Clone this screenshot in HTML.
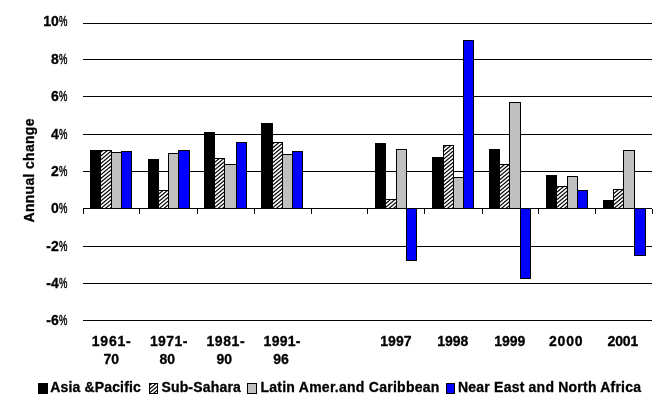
<!DOCTYPE html>
<html lang="en"><head><meta charset="utf-8"><title>Annual change chart</title>
<style>html,body{margin:0;padding:0;background:#fff}body{width:662px;height:407px;overflow:hidden}svg{display:block}text{font-family:"Liberation Sans",sans-serif;font-weight:bold;font-size:14px;fill:#000;stroke:#000;stroke-width:0.3px}</style>
</head><body>
<svg width="662" height="407" viewBox="0 0 662 407">
<defs><pattern id="hatch" width="9" height="15" patternUnits="userSpaceOnUse"><rect width="9" height="15" fill="#fff"/><path d="M-1 0.833L10 -8.333M-1 4.583L10 -4.583M-1 8.333L10 -0.833M-1 12.083L10 2.917M-1 15.833L10 6.667M-1 19.583L10 10.417M-1 23.333L10 14.167M-1 27.083L10 17.917" stroke="#000" stroke-width="1.25" fill="none"/></pattern></defs>
<rect width="662" height="407" fill="#fff"/>
<g shape-rendering="crispEdges" stroke="#000" stroke-width="1" fill="none">
<line x1="83" y1="23.5" x2="652" y2="23.5"/>
<line x1="83" y1="59.5" x2="652" y2="59.5"/>
<line x1="83" y1="96.5" x2="652" y2="96.5"/>
<line x1="83" y1="134.5" x2="652" y2="134.5"/>
<line x1="83" y1="171.5" x2="652" y2="171.5"/>
<line x1="83" y1="208.5" x2="652" y2="208.5"/>
<line x1="83" y1="246.5" x2="652" y2="246.5"/>
<line x1="83" y1="283.5" x2="652" y2="283.5"/>
<line x1="83" y1="320.5" x2="652" y2="320.5"/>
<line x1="83.5" y1="208" x2="83.5" y2="214"/>
<line x1="139.5" y1="208" x2="139.5" y2="214"/>
<line x1="197.5" y1="208" x2="197.5" y2="214"/>
<line x1="254.5" y1="208" x2="254.5" y2="214"/>
<line x1="311.5" y1="208" x2="311.5" y2="214"/>
<line x1="367.5" y1="208" x2="367.5" y2="214"/>
<line x1="424.5" y1="208" x2="424.5" y2="214"/>
<line x1="482.5" y1="208" x2="482.5" y2="214"/>
<line x1="538.5" y1="208" x2="538.5" y2="214"/>
<line x1="595.5" y1="208" x2="595.5" y2="214"/>
<line x1="652.5" y1="209" x2="652.5" y2="214"/>
</g>
<g shape-rendering="crispEdges" stroke="#000" stroke-width="1">
<rect x="90.5" y="150.5" width="10" height="58" fill="#000"/>
<rect x="100.5" y="150.5" width="11" height="58" fill="url(#hatch)"/>
<rect x="111.5" y="152.5" width="10" height="56" fill="#c0c0c0"/>
<rect x="121.5" y="151.5" width="10" height="57" fill="#0000ff"/>
<rect x="148.5" y="159.5" width="10" height="49" fill="#000"/>
<rect x="158.5" y="190.5" width="10" height="18" fill="url(#hatch)"/>
<rect x="168.5" y="153.5" width="10" height="55" fill="#c0c0c0"/>
<rect x="178.5" y="150.5" width="11" height="58" fill="#0000ff"/>
<rect x="204.5" y="132.5" width="10" height="76" fill="#000"/>
<rect x="214.5" y="158.5" width="10" height="50" fill="url(#hatch)"/>
<rect x="224.5" y="164.5" width="12" height="44" fill="#c0c0c0"/>
<rect x="236.5" y="142.5" width="10" height="66" fill="#0000ff"/>
<rect x="261.5" y="123.5" width="11" height="85" fill="#000"/>
<rect x="272.5" y="142.5" width="10" height="66" fill="url(#hatch)"/>
<rect x="282.5" y="154.5" width="10" height="54" fill="#c0c0c0"/>
<rect x="292.5" y="151.5" width="10" height="57" fill="#0000ff"/>
<rect x="375.5" y="143.5" width="10" height="65" fill="#000"/>
<rect x="385.5" y="199.5" width="11" height="9" fill="url(#hatch)"/>
<rect x="396.5" y="149.5" width="10" height="59" fill="#c0c0c0"/>
<rect x="406.5" y="208.5" width="10" height="52" fill="#0000ff"/>
<rect x="432.5" y="157.5" width="11" height="51" fill="#000"/>
<rect x="443.5" y="145.5" width="10" height="63" fill="url(#hatch)"/>
<rect x="453.5" y="177.5" width="10" height="31" fill="#c0c0c0"/>
<rect x="463.5" y="40.5" width="10" height="168" fill="#0000ff"/>
<rect x="489.5" y="149.5" width="10" height="59" fill="#000"/>
<rect x="499.5" y="164.5" width="10" height="44" fill="url(#hatch)"/>
<rect x="509.5" y="102.5" width="11" height="106" fill="#c0c0c0"/>
<rect x="520.5" y="208.5" width="10" height="70" fill="#0000ff"/>
<rect x="546.5" y="175.5" width="10" height="33" fill="#000"/>
<rect x="556.5" y="186.5" width="11" height="22" fill="url(#hatch)"/>
<rect x="567.5" y="176.5" width="10" height="32" fill="#c0c0c0"/>
<rect x="577.5" y="190.5" width="10" height="18" fill="#0000ff"/>
<rect x="603.5" y="200.5" width="10" height="8" fill="#000"/>
<rect x="613.5" y="189.5" width="10" height="19" fill="url(#hatch)"/>
<rect x="623.5" y="150.5" width="11" height="58" fill="#c0c0c0"/>
<rect x="634.5" y="208.5" width="11" height="47" fill="#0000ff"/>
</g>
<text x="58.8" y="26" text-anchor="end">10</text>
<text x="59" y="26" textLength="8.4" lengthAdjust="spacingAndGlyphs" style="font-weight:normal;stroke-width:0.45px">%</text>
<text x="58.8" y="64" text-anchor="end">8</text>
<text x="59" y="64" textLength="8.4" lengthAdjust="spacingAndGlyphs" style="font-weight:normal;stroke-width:0.45px">%</text>
<text x="58.8" y="101" text-anchor="end">6</text>
<text x="59" y="101" textLength="8.4" lengthAdjust="spacingAndGlyphs" style="font-weight:normal;stroke-width:0.45px">%</text>
<text x="58.8" y="139" text-anchor="end">4</text>
<text x="59" y="139" textLength="8.4" lengthAdjust="spacingAndGlyphs" style="font-weight:normal;stroke-width:0.45px">%</text>
<text x="58.8" y="176" text-anchor="end">2</text>
<text x="59" y="176" textLength="8.4" lengthAdjust="spacingAndGlyphs" style="font-weight:normal;stroke-width:0.45px">%</text>
<text x="58.8" y="213" text-anchor="end">0</text>
<text x="59" y="213" textLength="8.4" lengthAdjust="spacingAndGlyphs" style="font-weight:normal;stroke-width:0.45px">%</text>
<text x="58.8" y="251" text-anchor="end">-2</text>
<text x="59" y="251" textLength="8.4" lengthAdjust="spacingAndGlyphs" style="font-weight:normal;stroke-width:0.45px">%</text>
<text x="58.8" y="288" text-anchor="end">-4</text>
<text x="59" y="288" textLength="8.4" lengthAdjust="spacingAndGlyphs" style="font-weight:normal;stroke-width:0.45px">%</text>
<text x="58.8" y="325" text-anchor="end">-6</text>
<text x="59" y="325" textLength="8.4" lengthAdjust="spacingAndGlyphs" style="font-weight:normal;stroke-width:0.45px">%</text>
<text transform="translate(34.3,222.5) rotate(-90)" textLength="104" lengthAdjust="spacing">Annual change</text>
<text x="91.8" y="346" textLength="38.9" lengthAdjust="spacing">1961-</text>
<text x="111.2" y="364" text-anchor="middle">70</text>
<text x="149.9" y="346" textLength="37.5" lengthAdjust="spacing">1971-</text>
<text x="167.3" y="364" text-anchor="middle">80</text>
<text x="206.4" y="346" textLength="38.3" lengthAdjust="spacing">1981-</text>
<text x="224.2" y="364" text-anchor="middle">90</text>
<text x="263.6" y="346" textLength="36.8" lengthAdjust="spacing">1991-</text>
<text x="281.1" y="364" text-anchor="middle">96</text>
<text x="395.9" y="346" text-anchor="middle">1997</text>
<text x="452.8" y="346" text-anchor="middle">1998</text>
<text x="509.8" y="346" text-anchor="middle">1999</text>
<text x="548.9" y="346" textLength="33.7" lengthAdjust="spacing">2000</text>
<text x="607.5" y="346" textLength="30.7" lengthAdjust="spacing">2001</text>
<rect x="38.5" y="383.5" width="9" height="10" fill="#000" stroke="#000" stroke-width="1" shape-rendering="crispEdges"/>
<text x="50.2" y="392" textLength="90.6" lengthAdjust="spacing">Asia &amp;Pacific</text>
<rect x="149.5" y="383.5" width="8" height="10" fill="url(#hatch)" stroke="#000" stroke-width="1" shape-rendering="crispEdges"/>
<text x="161.4" y="392" textLength="79.4" lengthAdjust="spacing">Sub-Sahara</text>
<rect x="247.5" y="383.5" width="9" height="10" fill="#c0c0c0" stroke="#000" stroke-width="1" shape-rendering="crispEdges"/>
<text x="260.4" y="392" textLength="179" lengthAdjust="spacing">Latin Amer.and Caribbean</text>
<rect x="446.5" y="383.5" width="8" height="10" fill="#0000ff" stroke="#000" stroke-width="1" shape-rendering="crispEdges"/>
<text x="458" y="392" textLength="183" lengthAdjust="spacing">Near East and North Africa</text>
</svg>
</body></html>
